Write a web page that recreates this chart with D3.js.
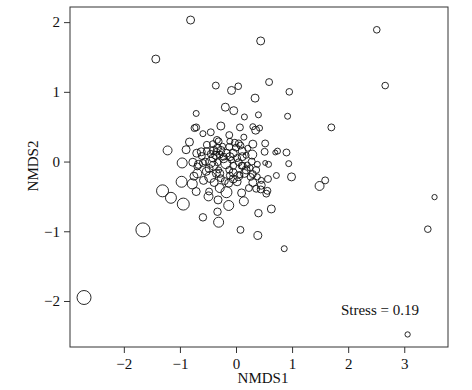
<html>
<head>
<meta charset="utf-8">
<script src="https://d3js.org/d3.v7.min.js"></script>
<style>
    body { margin: 0; background: #fff; }
    .frame { fill: none; stroke: #333; stroke-width: 1px; }
    .site { fill: none; stroke: #111; stroke-width: 0.9px; }
    .axis text { font-family: "Liberation Serif", serif; font-size: 15px; fill: #111; }
    .axis path { display: none; }
    .axis line { stroke: #333; }
    .lab { font-family: "Liberation Serif", serif; font-size: 15px; fill: #111; }
</style>
</head>
<body>
<svg id="nmds" width="472" height="390"></svg>
<script>
// NMDS site scores
const nmds1 = [-0.81, 0.44, -1.43, 2.51, 2.66, 3.54, 3.42, 3.06, -2.71, -1.66,
    0.86, 1.70, 1.59, 1.49, 0.99, 0.94, 0.90, 0.92, 0.95, 0.59,
    0.34, 0.04, -0.08, -0.36, -0.71, -0.19, -0.04, 0.15, 0.40, -0.27,
    0.07, 0.30, 0.42, 0.35, -0.74, -0.71, -0.59, -0.45, 0.14, -0.83,
    -1.22, -0.89, -0.96, -0.97, -1.31, -1.16, -0.94, -0.59, -0.33, -0.31,
    0.08, 0.39, 0.40, 0.63, -0.13, 0.14, -0.32, -0.49, -0.48, -0.17,
    -0.71, -0.78, -0.69, -0.75, -0.77, -0.59, -0.46, -0.29, -0.29, 0.10,
    0.23, 0.54, 0.56, 0.45, 0.36, 0.57, 0.45, 0.72, 0.58, 0.52,
    0.38, 0.20, 0.25, 0.04, -0.05, 0.30, 0.30, 0.38, 0.51, 0.52,
    0.74, 0.70, 0.30, 0.29, 0.05, -0.02, -0.12, -0.31, -0.41, -0.52,
    -0.62, -0.70, -0.61, -0.52, -0.40, -0.33, -0.36, -0.29, -0.17, -0.24,
    -0.05, 0.02, 0.11, 0.18, 0.05, -0.08, -0.18, -0.33, -0.45, -0.48,
    -0.31, -0.12, -0.05, -0.20, -0.13, -0.39, 0.07, 0.18, 0.44, -0.12,
    -0.34, -0.11, 0.08, 0.21, -0.69, -0.40, -0.22, 0.12, -0.58, 0.00,
    -0.35, -0.27, -0.22, -0.41, -0.55, -0.67, 0.10, 0.15, 0.26, 0.02,
    -0.27, -0.35, -0.11, -0.05, 0.11, 0.28, -0.45, -0.53, 0.36, -0.11];
const nmds2 = [2.03, 1.73, 1.47, 1.89, 1.09, -0.51, -0.97, -2.48, -1.95, -0.98,
    -1.25, 0.49, -0.27, -0.35, -0.22, -0.03, 0.13, 0.65, 1.00, 1.14,
    0.91, 1.08, 1.02, 1.09, 0.69, 0.78, 0.73, 0.64, 0.67, 0.51,
    0.49, 0.50, 0.48, 0.45, 0.48, 0.49, 0.40, 0.42, 0.35, 0.28,
    0.16, 0.17, -0.02, -0.29, -0.42, -0.52, -0.61, -0.80, -0.72, -0.87,
    -0.98, -1.06, -0.74, -0.68, -0.63, -0.57, -0.55, -0.50, -0.43, -0.44,
    -0.43, -0.32, -0.17, -0.21, -0.01, -0.02, -0.22, -0.17, -0.38, -0.45,
    -0.38, -0.46, -0.42, -0.34, -0.39, -0.25, -0.27, -0.20, -0.04, -0.02,
    -0.04, -0.05, -0.09, -0.21, -0.16, -0.18, -0.30, -0.22, 0.14, 0.26,
    0.15, 0.13, 0.25, 0.10, 0.26, 0.27, 0.21, 0.29, 0.25, 0.24,
    0.14, 0.12, 0.08, 0.15, 0.16, 0.19, 0.09, 0.10, 0.12, 0.22,
    0.12, 0.05, 0.15, 0.09, -0.01, 0.02, -0.03, -0.01, -0.01, -0.10,
    -0.12, -0.12, -0.25, -0.28, -0.31, -0.30, -0.19, -0.12, -0.40, 0.38,
    0.31, 0.29, 0.23, 0.19, -0.07, -0.06, 0.04, -0.06, -0.27, 0.20,
    0.14, 0.16, 0.07, 0.05, 0.00, -0.04, -0.06, -0.17, -0.22, -0.29,
    -0.24, -0.17, -0.20, -0.06, 0.07, 0.00, 0.11, -0.14, -0.12, 0.07];
// relative abundance, shown as circle area
const abund = [16, 16, 16, 11, 11, 7, 11, 7, 49, 49,
    9, 12, 12, 20, 16, 9, 12, 9, 11, 12,
    16, 11, 16, 12, 9, 16, 16, 9, 9, 16,
    12, 9, 9, 16, 12, 12, 9, 12, 9, 16,
    20, 16, 25, 30, 36, 30, 36, 14, 14, 25,
    12, 16, 14, 16, 25, 20, 16, 20, 12, 30,
    16, 25, 20, 16, 16, 12, 30, 16, 20, 16,
    12, 12, 12, 16, 12, 12, 9, 9, 9, 6,
    9, 9, 9, 20, 16, 12, 16, 9, 12, 12,
    9, 6, 16, 20, 12, 12, 12, 12, 12, 12,
    16, 16, 12, 12, 16, 16, 16, 12, 16, 9,
    16, 12, 16, 9, 12, 9, 25, 12, 25, 16,
    9, 12, 16, 12, 16, 16, 9, 16, 12, 12,
    12, 9, 12, 9, 12, 20, 16, 12, 16, 12,
    12, 16, 12, 16, 12, 16, 12, 16, 12, 16,
    12, 16, 12, 12, 16, 12, 12, 16, 12, 16];
const xTicks = [-2, -1, 0, 1, 2, 3];
const yTicks = [-2, -1, 0, 1, 2];
const stressValue = 0.19;

const svg = d3.select("#nmds");
const margin = {top: 7, right: 24, bottom: 43, left: 70};
const w = 472 - margin.left - margin.right;
const h = 390 - margin.top - margin.bottom;
const g = svg.append("g").attr("transform", "translate(" + margin.left + "," + margin.top + ")");

const x = d3.scaleLinear().domain([-2.96, 3.78]).range([0, w]);
const y = d3.scaleLinear().domain([-2.66, 2.217]).range([h, 0]);
const r = d3.scaleSqrt().domain([0, 49]).range([0, 7]);

const pts = nmds1.map((d, i) => ({x: d, y: nmds2[i], a: abund[i]}));

g.selectAll("circle").data(pts).enter()
    .append("circle")
    .attr("class", "site")
    .attr("cx", d => x(d.x))
    .attr("cy", d => y(d.y))
    .attr("r", d => r(d.a));

g.append("g").attr("class", "axis")
    .attr("transform", "translate(0," + h + ")")
    .call(d3.axisBottom(x).tickValues(xTicks).tickFormat(d3.format("d")).tickSize(6).tickPadding(5));

g.append("g").attr("class", "axis")
    .call(d3.axisLeft(y).tickValues(yTicks).tickFormat(d3.format("d")).tickSize(6).tickPadding(4));

g.append("rect").attr("class", "frame")
    .attr("x", 0).attr("y", 0).attr("width", w).attr("height", h);

svg.append("text").attr("class", "lab")
    .attr("x", 263).attr("y", 383)
    .attr("text-anchor", "middle")
    .text("NMDS1");

svg.append("text").attr("class", "lab")
    .attr("transform", "translate(38,166) rotate(-90)")
    .attr("text-anchor", "middle")
    .text("NMDS2");

g.append("text").attr("class", "lab")
    .attr("x", x(1.87)).attr("y", y(-2.2))
    .text("Stress = " + stressValue);
</script>
</body>
</html>
